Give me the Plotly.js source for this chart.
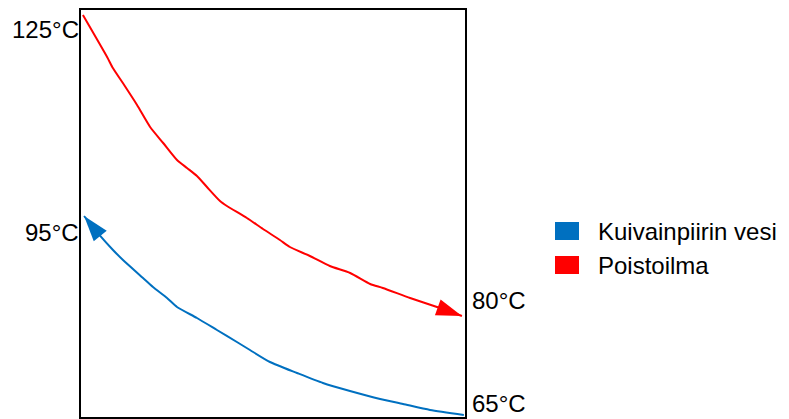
<!DOCTYPE html>
<html>
<head>
<meta charset="utf-8">
<script src="https://cdn.plot.ly/plotly-3.0.1.min.js"></script>
<style>html,body{margin:0;padding:0;background:#fff;}#chart{width:789px;height:419px;}</style>
</head>
<body>
<div id="chart"></div>
<script>
// Series names
const seriesNames = ["Kuivainpiirin vesi", "Poistoilma"];
const seriesColors = ["#0070c0", "#ff0000"];

// Poistoilma (exhaust air): position along exchanger (0-100) and temperature (°C)
const redX = [0.5, 6.8, 8.3, 10.9, 14.6, 18.0, 21.4, 25.0, 27.6, 30.2, 32.8, 36.2, 38.0, 43.2, 47.4, 51.8, 54.4, 59.6, 64.8, 70.1, 75.3, 78.6, 85.7, 92.7, 99.2];
const redT = [125.0, 118.7, 117.05, 114.8, 111.5, 108.2, 105.8, 103.25, 102.05, 100.85, 99.2, 97.1, 96.35, 94.55, 92.9, 91.25, 90.2, 88.85, 87.35, 86.3, 84.65, 84.05, 82.55, 81.2, 79.85];

// Kuivainpiirin vesi (dryer circuit water), flowing right to left
const blueX = [99.7, 90.9, 83.85, 77.9, 70.05, 63.0, 56.25, 49.2, 44.0, 40.6, 35.4, 30.2, 25.0, 22.4, 18.75, 16.15, 10.94, 8.33, 4.95, 0.8];
const blueT = [65.0, 65.75, 66.65, 67.4, 68.6, 69.8, 71.3, 72.95, 74.75, 75.95, 77.75, 79.55, 81.2, 82.55, 84.2, 85.55, 88.25, 89.75, 91.9, 94.85];

// Temperature labels
const tempLabels = ["125°C", "95°C", "80°C", "65°C"];
const tempValues = [125, 95, 80, 65];
const tempSides = ["left", "left", "right", "right"];

// layout geometry (pixels)
const L = 81, T = 10, W = 384, H = 407;
const B = T + H;
const px2x = p => (p - L) / W;
const py2y = p => (B - p) / H;

function arrowSizes(n, s) { const a = new Array(n).fill(0); a[n - 1] = s; return a; }
function arrowSyms(n) { const a = new Array(n).fill("circle"); a[n - 1] = "arrow"; return a; }

const FONT = "Liberation Sans, Arial, sans-serif";

const traces = [
  {
    x: blueX, y: blueT, name: seriesNames[0], type: "scatter", mode: "lines+markers",
    line: {color: seriesColors[0], width: 2, shape: "spline", smoothing: 0.6},
    marker: {color: seriesColors[0], opacity: 1, size: arrowSizes(blueX.length, 27), symbol: arrowSyms(blueX.length), angleref: "previous", line: {width: 0}},
    cliponaxis: false, showlegend: false, hoverinfo: "skip"
  },
  {
    x: redX, y: redT, name: seriesNames[1], type: "scatter", mode: "lines+markers",
    line: {color: seriesColors[1], width: 2, shape: "spline", smoothing: 0.6},
    marker: {color: seriesColors[1], opacity: 1, size: arrowSizes(redX.length, 27), symbol: arrowSyms(redX.length), angleref: "previous", line: {width: 0}},
    cliponaxis: false, showlegend: false, hoverinfo: "skip"
  }
];

const yShifts = [-14, -17, 15, 12];
const annotations = tempLabels.map((t, i) => ({
  text: t, xref: "paper", yref: "y",
  x: tempSides[i] === "left" ? 0 : 1, y: tempValues[i],
  xanchor: tempSides[i] === "left" ? "right" : "left",
  xshift: tempSides[i] === "left" ? 0 : 5,
  yanchor: "middle", yshift: yShifts[i],
  showarrow: false, font: {family: FONT, size: 24, color: "#000"}
}));

// custom legend with square keys
const legendRows = [231, 265];
const shapes = [];
seriesNames.forEach((n, i) => {
  shapes.push({type: "rect", xref: "paper", yref: "paper",
    x0: px2x(555), x1: px2x(579), y0: py2y(legendRows[i] - 9), y1: py2y(legendRows[i] + 9),
    fillcolor: seriesColors[i], line: {width: 0}});
  annotations.push({text: n, xref: "paper", yref: "paper", x: px2x(596), y: py2y(legendRows[i]),
    xanchor: "left", yanchor: "middle", showarrow: false, font: {family: FONT, size: 24, color: "#000"}});
});

const layout = {
  width: 789, height: 419,
  margin: {l: L, r: 789 - L - W, t: T, b: 419 - B, pad: 0},
  paper_bgcolor: "#fff", plot_bgcolor: "#fff",
  showlegend: false,
  font: {family: FONT, size: 24, color: "#000"},
  xaxis: {range: [0, 100], showgrid: false, zeroline: false, showticklabels: false, ticks: "",
    showline: true, mirror: true, linecolor: "#000", linewidth: 2},
  yaxis: {range: [64.7, 125.75], showgrid: false, zeroline: false, showticklabels: false, ticks: "",
    showline: true, mirror: true, linecolor: "#000", linewidth: 2},
  annotations: annotations,
  shapes: shapes
};

Plotly.newPlot("chart", traces, layout, {displayModeBar: false, staticPlot: true});
</script>
</body>
</html>
